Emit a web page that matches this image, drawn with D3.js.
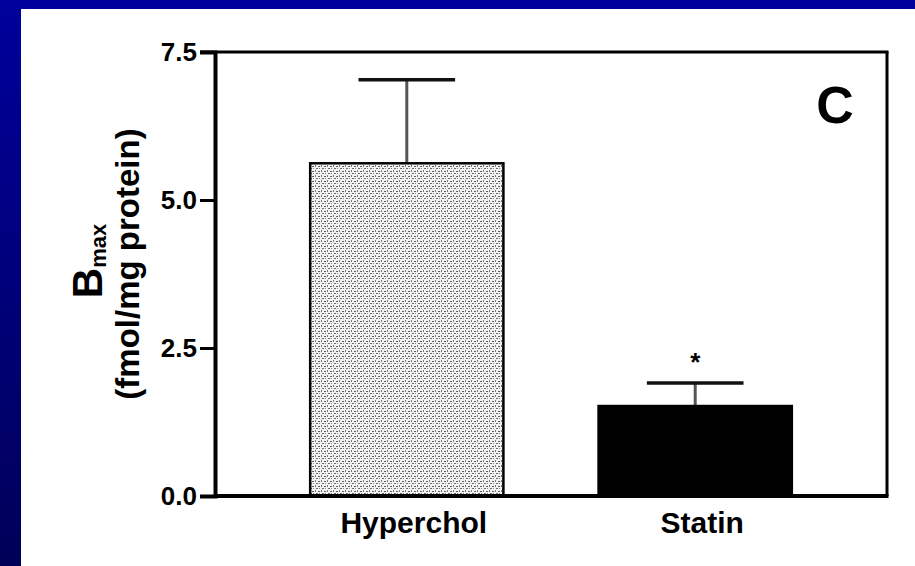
<!DOCTYPE html>
<html>
<head>
<meta charset="utf-8">
<script src="https://cdn.jsdelivr.net/npm/d3@7"></script>
<style>
  html, body { margin: 0; padding: 0; background: #fff; }
  svg { display: block; }
  text { font-family: "Liberation Sans", Arial, Helvetica, sans-serif; font-weight: bold; fill: #000; }
</style>
</head>
<body>
<svg id="chart" width="915" height="566"></svg>
<script>
// Receptor density (Bmax) by treatment group
const categories = ["Hyperchol", "Statin"];
const meanValues = [5.62, 1.52];
const errorValues = [1.41, 0.39];
const significance = ["", "*"];
const yTickValues = [0, 2.5, 5.0, 7.5];
const panelLetter = "C";

const W = 915, H = 566;
const svg = d3.select("#chart");

// Slide background: blue gradient frame with a white panel
const defs = svg.append("defs");
const grad = defs.append("linearGradient")
  .attr("id", "slideBg").attr("x1", 0).attr("y1", 0).attr("x2", 0).attr("y2", 1);
grad.append("stop").attr("offset", "0%").attr("stop-color", "#00009c");
grad.append("stop").attr("offset", "100%").attr("stop-color", "#000058");

svg.append("rect").attr("width", W).attr("height", H).attr("fill", "url(#slideBg)");
svg.append("rect").attr("x", 21).attr("y", 9).attr("width", W - 21).attr("height", H - 9).attr("fill", "#fff");

// Stipple fill for the hypercholesterolemic bar
const pat = defs.append("pattern")
  .attr("id", "stipple").attr("patternUnits", "userSpaceOnUse")
  .attr("width", 6).attr("height", 5);
pat.append("rect").attr("width", 6).attr("height", 5).attr("fill", "#f2f2f2");
pat.append("rect").attr("x", 0).attr("y", 1).attr("width", 2).attr("height", 1).attr("fill", "#5e5e5e");
pat.append("rect").attr("x", 3).attr("y", 0).attr("width", 1).attr("height", 2).attr("fill", "#7a7a7a");
pat.append("rect").attr("x", 4).attr("y", 3).attr("width", 2).attr("height", 1).attr("fill", "#6a6a6a");
pat.append("rect").attr("x", 1).attr("y", 3).attr("width", 1).attr("height", 1).attr("fill", "#8a8a8a");

// Plot geometry
const plot = { left: 215, right: 887, top: 52, bottom: 496 };

const x = d3.scaleBand()
  .domain(categories)
  .range([plot.left, plot.right])
  .paddingInner(0.33)
  .paddingOuter(0.33);

const y = d3.scaleLinear()
  .domain([0, 7.5])
  .range([plot.bottom, plot.top]);

const data = categories.map((c, i) => ({
  cat: c, mean: meanValues[i], err: errorValues[i], sig: significance[i]
}));

// Error bars (drawn first so bars sit over the stem base)
const eb = svg.append("g");
data.forEach(d => {
  const cx = x(d.cat) + x.bandwidth() / 2;
  const half = x.bandwidth() / 4;
  eb.append("line")
    .attr("x1", cx).attr("x2", cx)
    .attr("y1", y(d.mean)).attr("y2", y(d.mean + d.err))
    .attr("stroke", "#555").attr("stroke-width", 3);
  eb.append("line")
    .attr("x1", cx - half).attr("x2", cx + half)
    .attr("y1", y(d.mean + d.err)).attr("y2", y(d.mean + d.err))
    .attr("stroke", "#111").attr("stroke-width", 3.5);
});

// Bars
svg.append("g").selectAll("rect")
  .data(data)
  .join("rect")
  .attr("x", d => x(d.cat))
  .attr("y", d => y(d.mean))
  .attr("width", x.bandwidth())
  .attr("height", d => y(0) - y(d.mean))
  .attr("fill", (d, i) => i === 0 ? "url(#stipple)" : "#000")
  .attr("stroke", "#000")
  .attr("stroke-width", 2.5);

// Significance marker
svg.append("g").selectAll("text")
  .data(data.filter(d => d.sig))
  .join("text")
  .attr("x", d => x(d.cat) + x.bandwidth() / 2)
  .attr("y", d => y(d.mean + d.err) - 12)
  .attr("text-anchor", "middle")
  .attr("font-size", 26)
  .text(d => d.sig);

// Frame: top and right edges
const frame = svg.append("g").attr("stroke", "#000").attr("stroke-width", 3).attr("fill", "none");
frame.append("line").attr("x1", plot.left - 15).attr("x2", plot.right + 1.5)
  .attr("y1", y(7.5)).attr("y2", y(7.5));
frame.append("line").attr("x1", plot.right).attr("x2", plot.right)
  .attr("y1", y(7.5)).attr("y2", y(0));

// Y axis
const yAxis = svg.append("g")
  .attr("transform", `translate(${plot.left},0)`)
  .call(d3.axisLeft(y).tickValues(yTickValues).tickFormat(d3.format(".1f")).tickSize(15).tickPadding(3));
yAxis.select(".domain").attr("stroke", "#000").attr("stroke-width", 4);
yAxis.selectAll(".tick line").attr("stroke", "#000").attr("stroke-width", 3);
yAxis.selectAll(".tick text")
  .attr("font-size", 26)
  .attr("font-family", "\"Liberation Sans\", Arial, sans-serif")
  .attr("font-weight", "bold")
  .attr("fill", "#000");

// X axis baseline
svg.append("line")
  .attr("x1", plot.left).attr("x2", plot.right + 1.5)
  .attr("y1", y(0)).attr("y2", y(0))
  .attr("stroke", "#000").attr("stroke-width", 4);

// Category labels
svg.append("g").selectAll("text")
  .data(categories)
  .join("text")
  .attr("x", d => x(d) + x.bandwidth() / 2 + 7)
  .attr("y", 533)
  .attr("text-anchor", "middle")
  .attr("font-size", 30)
  .text(d => d);

// Y axis title
const t1 = svg.append("text")
  .attr("transform", "translate(102,261) rotate(-90)")
  .attr("text-anchor", "middle");
t1.append("tspan").attr("font-size", 42).text("B");
t1.append("tspan").attr("font-size", 22).attr("dy", 4).text("max");

svg.append("text")
  .attr("transform", "translate(139,264) rotate(-90)")
  .attr("text-anchor", "middle")
  .attr("font-size", 33)
  .text("(fmol/mg protein)");

// Panel letter
svg.append("text")
  .attr("x", 835).attr("y", 123)
  .attr("text-anchor", "middle")
  .attr("font-size", 52)
  .text(panelLetter);
</script>
</body>
</html>
